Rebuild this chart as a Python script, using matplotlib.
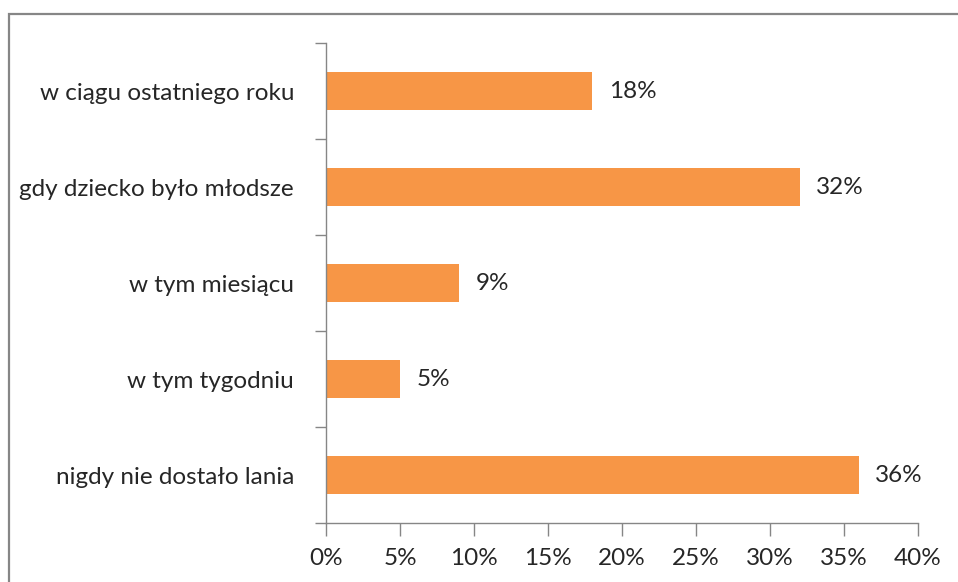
import matplotlib.pyplot as plt
from matplotlib.patches import Rectangle
from matplotlib.ticker import FuncFormatter

# dane (od góry do dołu)
kategorie = ["w ciągu ostatniego roku", "gdy dziecko było młodsze", "w tym miesiącu",
             "w tym tygodniu", "nigdy nie dostało lania"]
wartosci = [18, 32, 9, 5, 36]
etykiety = ["18%", "32%", "9%", "5%", "36%"]

plt.rcParams['font.family'] = ['Lato', 'DejaVu Sans']
kolor_osi = "#868686"
kolor_tekstu = "#262626"
rozmiar = 17.5

fig = plt.figure(figsize=(9.58, 5.82), dpi=100)
ax = fig.add_axes([326/958, 59/582, 592/958, 480/582])

# ramka wykresu
fig.patches.append(Rectangle((9/958, -0.1), 1.2, (582-14)/582 + 0.1, transform=fig.transFigure,
                             fill=False, edgecolor=kolor_osi, linewidth=1.6))

y = list(range(len(kategorie)))
ax.barh(y, wartosci, height=0.4, color="#F79646")
for yi, v, t in zip(y, wartosci, etykiety):
    ax.text(v + 1.1, yi, t, va="center", ha="left", fontsize=rozmiar, color=kolor_tekstu)

ax.set_xlim(0, 40)
ax.set_ylim(len(kategorie) - 0.5, -0.5)
ax.set_xticks(range(0, 41, 5))
ax.xaxis.set_major_formatter(FuncFormatter(lambda v, p: f"{int(v)}%"))
ax.set_yticks(y)
ax.set_yticklabels(kategorie)
ax.set_yticks([i - 0.5 for i in range(len(kategorie) + 1)], minor=True)

ax.tick_params(axis="y", which="major", length=0, pad=23, labelsize=rozmiar, labelcolor=kolor_tekstu)
ax.tick_params(axis="y", which="minor", length=8, color=kolor_osi, width=1)
ax.tick_params(axis="x", length=9, color=kolor_osi, width=1, pad=9, labelsize=rozmiar,
               labelcolor=kolor_tekstu)

for s in ["top", "right"]:
    ax.spines[s].set_visible(False)
for s in ["left", "bottom"]:
    ax.spines[s].set_color(kolor_osi)
    ax.spines[s].set_linewidth(1)

fig.savefig("out.png", dpi=100)
